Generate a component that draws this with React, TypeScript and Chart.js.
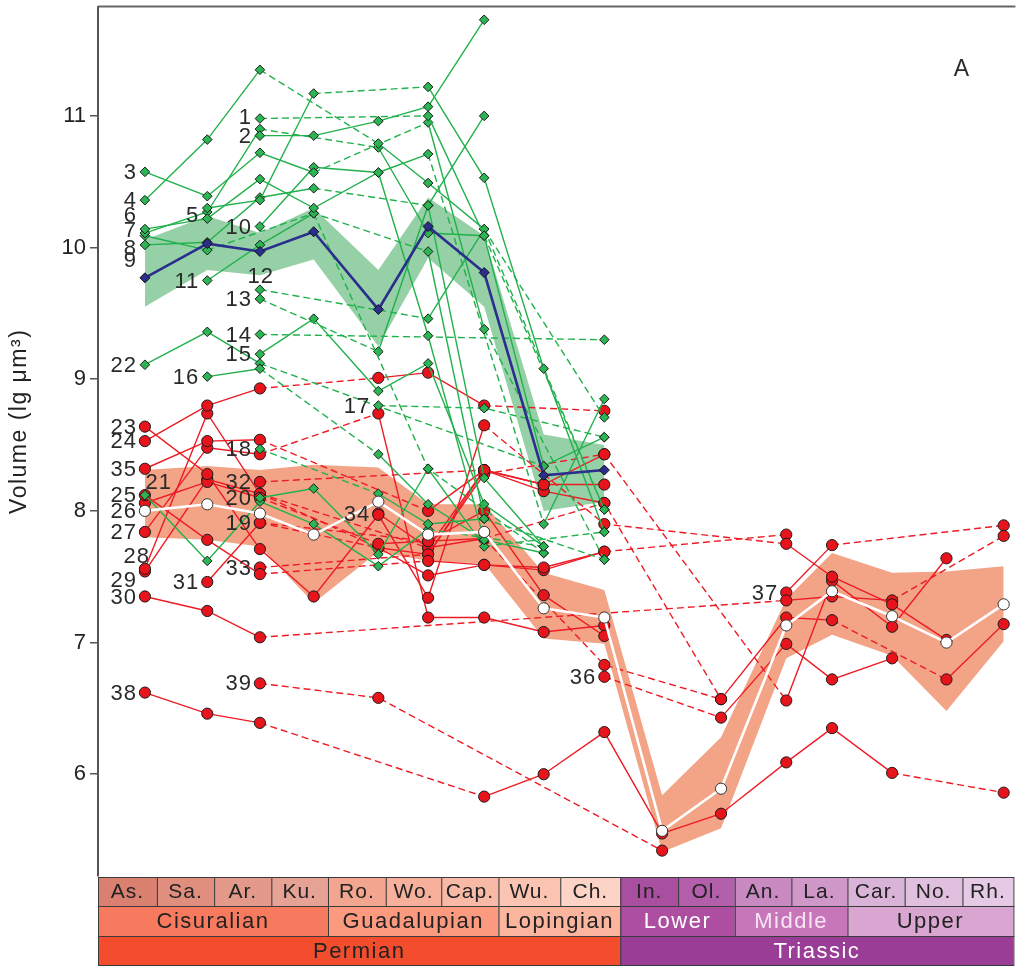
import React, { useEffect, useRef } from 'react';
import { Chart, registerables } from 'chart.js';
Chart.register(...registerables);

// ---------------- data ----------------
const STAGES = ['As.', 'Sa.', 'Ar.', 'Ku.', 'Ro.', 'Wo.', 'Cap.', 'Wu.', 'Ch.', 'In.', 'Ol.', 'An.', 'La.', 'Car.', 'No.', 'Rh.'];
// x position (in stage units) where each stage's samples are plotted
const STAGE_POS = [0.82, 1.91, 2.83, 3.77, 4.9, 5.77, 6.75, 7.79, 8.85, 9.86, 10.89, 12.03, 12.83, 13.88, 14.83, 15.83];
const STAGE_EDGES = [0, 1.03, 2.03, 3.03, 4.02, 5.03, 6.0, 7.0, 8.08, 9.13, 10.14, 11.13, 12.12, 13.1, 14.1, 15.11, 16];
const STAGE_COLORS = ['#d98070', '#e08e7e', '#e49a8a', '#e6a295', '#f3a68f', '#f6b09b', '#f8b9a6', '#fbc4b2', '#fcd3c5',
  '#a8509f', '#b45fab', '#c98ac2', '#d097c9', '#dab3d9', '#e1c0df', '#e6c9e4'];
const SERIES_NAMES = ['Cisuralian', 'Guadalupian', 'Lopingian', 'Lower', 'Middle', 'Upper'];
const SERIES_SPANS = [[0, 4], [4, 7], [7, 9], [9, 11], [11, 13], [13, 16]];
const SERIES_COLORS = ['#f77a5f', '#fb9a7e', '#fbb49d', '#ad4ea1', '#c777b9', '#d9a6d2'];
const SERIES_TEXT = ['#222', '#222', '#222', '#ffffff', '#f8e6f4', '#222'];
const SYSTEM_NAMES = ['Permian', 'Triassic'];
const SYSTEM_SPANS = [[0, 9], [9, 16]];
const SYSTEM_COLORS = ['#f44d2e', '#9a3d97'];
const SYSTEM_TEXT = ['#222', '#ffffff'];
const Y_TICKS = [6, 7, 8, 9, 10, 11];
const Y_TITLE = 'Volume (lg μm³)';

// mean curves and their ranges (stage index order)
const GREEN_MEAN = [9.77, 10.03, 9.97, 10.12, 9.53, 10.16, 9.81, 8.27, 8.31];
const GREEN_UPPER = [10.06, 10.24, 10.11, 10.3, 9.83, 10.38, 10.09, 8.58, 8.5];
const GREEN_LOWER = [9.55, 9.83, 9.79, 9.91, 9.25, 9.92, 9.55, 8.0, 8.07];
const RED_MEAN = [8.0, 8.05, 7.98, 7.82, 8.07, 7.82, 7.84, 7.26, 7.19, 5.57, 5.89, 7.13, 7.39, 7.2, 7.0, 7.29];
const RED_UPPER = [8.31, 8.34, 8.31, 8.35, 8.33, 8.05, 8.05, 7.53, 7.4, 5.84, 6.28, 7.33, 7.68, 7.53, 7.54, 7.58];
const RED_LOWER = [7.8, 7.78, 7.73, 7.3, 7.69, 7.62, 7.6, 7.03, 6.99, 5.41, 5.59, 6.88, 7.06, 6.9, 6.48, 7.01];

// individual lineages: [stage index, lg volume]
const GREEN_LINES: [string, number[][]][] = [
  ['1', [[2, 10.98], [5, 11.0], [6, 10.09], [7, 8.34], [8, 8.56]]],
  ['2', [[2, 10.85], [3, 10.85], [4, 10.96], [5, 11.07], [6, 11.73]]],
  ['3', [[0, 10.575], [1, 10.39], [2, 10.72], [3, 10.57], [5, 10.95], [6, 9.38], [8, 7.63]]],
  ['4', [[0, 10.36], [1, 10.82], [2, 11.35], [4, 10.79], [5, 10.49], [6, 10.14], [8, 8.71]]],
  ['5', [[1, 10.3], [2, 10.36], [3, 11.17], [5, 11.22], [6, 10.53], [7, 9.08], [8, 7.84]]],
  ['6', [[0, 10.14], [1, 10.22], [2, 10.52], [3, 10.3], [4, 10.57], [5, 10.71], [7, 7.9], [8, 8.85]]],
  ['7', [[0, 10.11], [1, 10.27], [2, 10.9], [4, 10.76], [5, 10.11], [6, 10.09], [8, 8.01]]],
  ['8', [[0, 10.09], [1, 9.98], [3, 10.26], [5, 9.97], [6, 7.94]]],
  ['9', [[0, 10.02], [1, 10.04], [2, 10.38], [3, 10.45], [5, 10.32], [6, 8.25], [7, 7.73]]],
  ['10', [[2, 10.16], [3, 10.61], [4, 10.57], [5, 9.33], [6, 7.78]]],
  ['11', [[1, 9.75], [2, 10.02], [3, 10.26], [5, 8.32], [7, 7.68]]],
  ['12', [[2, 9.68], [5, 9.46], [6, 10.14], [8, 8.01]]],
  ['13', [[2, 9.61], [4, 9.21], [5, 10.32], [6, 11.0]]],
  ['14', [[2, 9.34], [8, 9.3]]],
  ['15', [[2, 9.19], [3, 9.46], [4, 8.91], [5, 9.12], [6, 8.05], [7, 7.73]]],
  ['16', [[1, 9.02], [2, 9.08], [4, 8.43], [5, 8.05], [6, 7.78], [7, 7.68]]],
  ['17', [[4, 8.8], [6, 8.78], [8, 8.56]]],
  ['18', [[2, 8.47], [4, 8.13], [5, 7.9], [6, 7.94], [8, 7.63]]],
  ['20', [[2, 8.1], [3, 8.17], [4, 7.67], [5, 8.32], [6, 7.73], [8, 7.84]]],
  ['21', [[0, 8.12], [1, 7.62], [2, 8.07], [3, 7.9], [4, 7.58], [5, 7.86], [7, 7.73]]],
  ['22', [[0, 9.11], [1, 9.36], [2, 9.12], [7, 8.34]]],
];

const RED_LINES: [string, number[][]][] = [
  ['23', [[0, 8.64], [1, 8.28], [2, 7.71], [3, 7.35], [4, 7.97], [5, 7.34], [6, 8.65], [8, 7.9], [11, 7.75], [12, 7.5], [13, 7.29], [14, 7.02]]],
  ['24', [[0, 8.53], [1, 8.8], [2, 8.93], [4, 9.01], [5, 9.05], [6, 8.8], [8, 8.76]]],
  ['35', [[0, 8.32], [1, 8.53], [2, 8.54], [5, 8.0], [6, 8.31], [7, 8.2], [8, 8.2]]],
  ['25', [[0, 8.12], [1, 7.78], [2, 7.52], [5, 7.62], [6, 7.59], [7, 7.57], [8, 7.69], [11, 7.82]]],
  ['26', [[0, 8.06], [1, 8.22], [2, 8.1], [4, 7.75], [5, 7.77], [6, 8.0], [7, 7.36], [8, 7.05]]],
  ['27', [[0, 7.84], [1, 8.48], [2, 8.43], [4, 8.74], [5, 7.19], [6, 7.19], [7, 7.08], [8, 7.13]]],
  ['28', [[0, 7.56], [1, 8.74], [2, 8.13], [4, 7.72], [5, 7.67], [6, 8.28], [8, 8.43], [11, 6.56], [12, 7.47], [13, 7.12], [14, 7.64]]],
  ['29', [[0, 7.54], [1, 8.24], [2, 8.13], [5, 7.72], [6, 7.79], [8, 8.06], [10, 6.57], [11, 7.19], [12, 7.17], [14, 6.72], [15, 7.14]]],
  ['30', [[0, 7.35], [1, 7.24], [2, 7.04], [11, 7.32], [12, 7.35], [13, 7.32], [15, 7.81]]],
  ['31', [[1, 7.46], [2, 7.91], [4, 7.72], [5, 7.51], [6, 7.59], [7, 7.55], [8, 7.69]]],
  ['32', [[2, 8.22], [6, 8.31], [7, 8.15], [8, 8.06]]],
  ['33', [[2, 7.57], [5, 7.67], [6, 8.31]]],
  ['19', [[2, 7.91], [5, 7.77], [6, 7.79], [8, 6.83], [10, 6.57]]],
  ['34', [[4, 7.98], [5, 7.72], [6, 8.31], [7, 8.2], [8, 8.43]]],
  ['36', [[8, 6.74], [10, 6.43], [11, 6.99], [12, 6.72], [13, 6.88]]],
  ['37', [[11, 7.38], [12, 7.74], [15, 7.89]]],
  ['38', [[0, 6.62], [1, 6.46], [2, 6.39], [6, 5.83], [7, 6.0], [8, 6.32], [9, 5.55], [10, 5.7], [11, 6.09], [12, 6.35], [13, 6.01], [15, 5.86]]],
  ['39', [[2, 6.69], [4, 6.58], [9, 5.42]]],
];

// label nudges (px): [dx, dy]
const LABEL_NUDGE: Record<string, number[]> = {
  '1': [0, -2], '5': [0, 7], '6': [0, -14], '7': [0, -3], '8': [0, 12], '9': [0, 15],
  '12': [22, -14], '21': [35, -13], '28': [13, -13], '29': [0, 8], '26': [0, 8],
};

const FONT = 'Liberation Sans, Arial, Helvetica, sans-serif';
const GREEN = '#22b14c';
const RED = '#ed1c24';

export default function App() {
  const ref = useRef<HTMLCanvasElement | null>(null);
  useEffect(() => {
    document.body.style.margin = '0';
    const canvas = ref.current!;
    const pt = (s: number, v: number) => ({ x: STAGE_POS[s], y: v });
    const seq = (arr: number[]) => arr.map((v, i) => pt(i, v));

    const datasets: any[] = [];
    // bands
    datasets.push({ data: seq(RED_UPPER), borderWidth: 0, pointRadius: 0, backgroundColor: '#f3a487', fill: { target: 1 }, order: 100 });
    datasets.push({ data: seq(RED_LOWER), borderWidth: 0, pointRadius: 0, fill: false, order: 100 });
    datasets.push({ data: seq(GREEN_UPPER), borderWidth: 0, pointRadius: 0, backgroundColor: '#95d0a6', fill: { target: 3 }, order: 99 });
    datasets.push({ data: seq(GREEN_LOWER), borderWidth: 0, pointRadius: 0, fill: false, order: 99 });

    const mk = (id: string, pts: number[][], color: string, green: boolean, order: number) => ({
      data: pts.map(([s, v]) => pt(s, v)),
      borderColor: color,
      borderWidth: 1.4,
      pointStyle: green ? 'rectRot' : 'circle',
      pointRadius: green ? 4.8 : 5.6,
      pointBackgroundColor: green ? '#2bb553' : '#e8141c',
      pointBorderColor: '#1c1c1c',
      pointBorderWidth: 1,
      fill: false,
      tension: 0,
      order,
      lineLabel: id,
      segment: {
        borderDash: (c: any) => (pts[c.p1DataIndex][0] - pts[c.p0DataIndex][0] > 1 ? [7, 4] : undefined),
      },
    });
    RED_LINES.forEach(([id, pts]) => datasets.push(mk(id, pts, RED, false, 20)));
    GREEN_LINES.forEach(([id, pts]) => datasets.push(mk(id, pts, GREEN, true, 15)));

    datasets.push({
      data: seq(RED_MEAN), borderColor: '#ffffff', borderWidth: 2.6, pointStyle: 'circle', pointRadius: 5.6,
      pointBackgroundColor: '#ffffff', pointBorderColor: '#333', pointBorderWidth: 1, fill: false, order: 2,
    });
    datasets.push({
      data: seq(GREEN_MEAN), borderColor: '#2b2e8c', borderWidth: 2.6, pointStyle: 'rectRot', pointRadius: 5,
      pointBackgroundColor: '#2b2e8c', pointBorderColor: '#111', pointBorderWidth: 1, fill: false, order: 1,
    });

    const labelsPlugin = {
      id: 'lineLabels',
      afterDatasetsDraw(chart: any) {
        const ctx = chart.ctx;
        const a = chart.chartArea;
        ctx.save();
        ctx.font = `22px ${FONT}`;
        ctx.fillStyle = '#2a2a2a';
        ctx.textAlign = 'right';
        ctx.textBaseline = 'middle';
        (ctx as any).letterSpacing = '1px';
        chart.data.datasets.forEach((ds: any, i: number) => {
          if (!ds.lineLabel) return;
          const p = chart.getDatasetMeta(i).data[0];
          const [dx, dy] = LABEL_NUDGE[ds.lineLabel] || [0, 0];
          ctx.fillText(ds.lineLabel, p.x - 8 + dx, p.y + 1 + dy);
        });
        ctx.font = `23px ${FONT}`;
        ctx.textAlign = 'center';
        ctx.fillText('A', 962, 70);
        // y axis title
        ctx.save();
        ctx.translate(20, (a.top + a.bottom) / 2 - 20);
        ctx.rotate(-Math.PI / 2);
        ctx.font = `23px ${FONT}`;
        (ctx as any).letterSpacing = '1.5px';
        ctx.fillStyle = '#222';
        ctx.fillText(Y_TITLE, 0, 0);
        ctx.restore();
        ctx.restore();
      },
    };

    const framePlugin = {
      id: 'timescale',
      afterDraw(chart: any) {
        const ctx = chart.ctx;
        const xs = chart.scales.x;
        const a = chart.chartArea;
        ctx.save();
        // top frame
        ctx.strokeStyle = '#666';
        ctx.lineWidth = 2;
        ctx.beginPath();
        ctx.moveTo(a.left, a.top);
        ctx.lineTo(a.right + 2, a.top);
        ctx.stroke();

        const y0 = a.bottom + 1;
        const rows = [[y0, 29], [y0 + 29, 30], [y0 + 59, 29]];
        const px = (v: number) => xs.getPixelForValue(v);
        const cell = (x0: number, x1: number, ry: number[], fill: string, text: string, tc: string) => {
          ctx.fillStyle = fill;
          ctx.fillRect(x0, ry[0], x1 - x0, ry[1]);
          ctx.strokeStyle = '#3a3a3a';
          ctx.lineWidth = 1;
          ctx.strokeRect(x0 + 0.5, ry[0] + 0.5, x1 - x0, ry[1]);
          ctx.fillStyle = tc;
          ctx.fillText(text, (x0 + x1) / 2, ry[0] + ry[1] / 2 + 1);
        };
        ctx.textAlign = 'center';
        ctx.textBaseline = 'middle';
        (ctx as any).letterSpacing = '1px';
        ctx.font = `21px ${FONT}`;
        STAGES.forEach((s, i) => cell(px(STAGE_EDGES[i]), px(STAGE_EDGES[i + 1]), rows[0], STAGE_COLORS[i], s, '#222'));
        (ctx as any).letterSpacing = '1.5px';
        ctx.font = `22px ${FONT}`;
        SERIES_NAMES.forEach((s, i) => cell(px(STAGE_EDGES[SERIES_SPANS[i][0]]), px(STAGE_EDGES[SERIES_SPANS[i][1]]), rows[1], SERIES_COLORS[i], s, SERIES_TEXT[i]));
        SYSTEM_NAMES.forEach((s, i) => cell(px(STAGE_EDGES[SYSTEM_SPANS[i][0]]), px(STAGE_EDGES[SYSTEM_SPANS[i][1]]), rows[2], SYSTEM_COLORS[i], s, SYSTEM_TEXT[i]));
        ctx.restore();
      },
    };

    const chart = new Chart(canvas, {
      type: 'line',
      data: { datasets },
      options: {
        animation: false,
        responsive: false,
        devicePixelRatio: 1,
        layout: { padding: { top: 3, right: 2, bottom: 91, left: 0 } },
        plugins: { legend: { display: false }, tooltip: { enabled: false } },
        scales: {
          x: { type: 'linear', min: 0, max: 16, display: false },
          y: {
            type: 'linear',
            min: 5.227,
            max: 11.83,
            afterBuildTicks: (s: any) => { s.ticks = Y_TICKS.map((v) => ({ value: v })); },
            afterFit: (s: any) => { s.width = 98; s.paddingTop = 0; s.paddingBottom = 0; },
            grid: { drawOnChartArea: false, drawTicks: true, tickLength: 8, color: '#555', lineWidth: 1.5 },
            border: { display: true, color: '#555', width: 2 },
            ticks: { font: { family: FONT, size: 22 }, color: '#222', padding: 4 },
            title: { display: false },
          },
        },
      } as any,
      plugins: [labelsPlugin, framePlugin],
    });
    return () => chart.destroy();
  }, []);
  return (
    <div style={{ width: 1020, height: 967 }}>
      <canvas ref={ref} width={1020} height={967} style={{ width: 1020, height: 967, display: 'block' }} />
    </div>
  );
}
